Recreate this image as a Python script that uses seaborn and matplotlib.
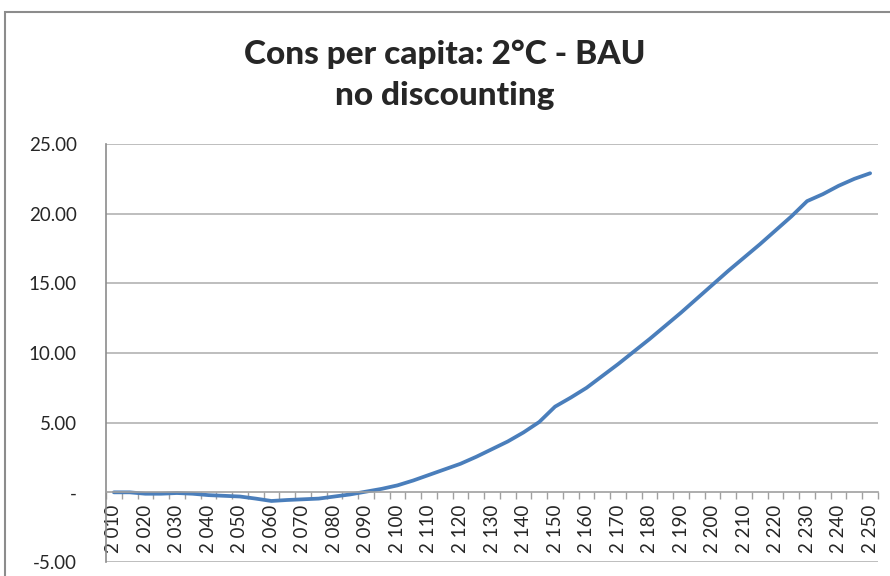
import matplotlib
matplotlib.use('Agg')
import matplotlib.pyplot as plt
from matplotlib.patches import Rectangle
import seaborn as sns
import numpy as np
import pandas as pd

# category years, every 5 years
years = list(range(2010, 2251, 5))
cons_diff = [0.0, 0.0, -0.1, -0.1, -0.05, -0.1, -0.2, -0.25, -0.3, -0.45,
             -0.62, -0.55, -0.5, -0.45, -0.3, -0.15, 0.05, 0.25, 0.5, 0.85,
             1.25, 1.65, 2.05, 2.55, 3.1, 3.65, 4.3, 5.05, 6.15, 6.8,
             7.5, 8.35, 9.2, 10.1, 11.0, 11.95, 12.9, 13.9, 14.9, 15.9,
             16.85, 17.8, 18.8, 19.8, 20.9, 21.4, 22.0, 22.5, 22.9]
y_ticks = [-5, 0, 5, 10, 15, 20, 25]
title = 'Cons per capita: 2°C - BAU\nno discounting'


def year_label(y):
    s = str(y)
    return s[0] + ' ' + s[1:]


def main():
    sns.set_style('white')
    plt.rcParams['font.family'] = ['Lato', 'DejaVu Sans']

    df = pd.DataFrame({'pos': np.arange(len(years)), 'value': cons_diff})

    fig = plt.figure(figsize=(8.9, 5.76), dpi=100)
    ax = fig.add_axes([106/890, 1 - 562/576, (878 - 106)/890, (562 - 144)/576])

    for t in y_ticks:
        if t != 0:
            ax.axhline(t, color='#b3b3b3', lw=1.2, zorder=0)

    sns.lineplot(data=df, x='pos', y='value', ax=ax, color='#4a7ebb', lw=2.7)

    ax.set_xlim(-0.5, len(years) - 0.5)
    ax.set_ylim(-5, 25)
    ax.set_yticks(y_ticks)
    ax.set_yticklabels(['-' if t == 0 else f'{t:.2f}' for t in y_ticks])
    ax.tick_params(axis='y', length=0, pad=21, labelsize=13.5)

    # category labels every 10 years, ticks between categories
    lab_pos = [i for i, y in enumerate(years) if y % 10 == 0]
    ax.set_xticks(lab_pos)
    ax.set_xticks(np.arange(len(years) + 1) - 0.5, minor=True)
    ax.set_xticklabels([year_label(years[i]) for i in lab_pos])
    ax.tick_params(axis='x', which='major', length=0, pad=9,
                   labelrotation=90, labelsize=13.5)
    ax.tick_params(axis='x', which='minor', length=5, color='#a0a0a0',
                   width=1, direction='out', bottom=True)

    ax.spines['bottom'].set_position(('data', 0))
    ax.spines['bottom'].set_color('#a0a0a0')
    ax.spines['bottom'].set_linewidth(1.2)
    ax.spines['left'].set_color('#8c8c8c')
    ax.spines['left'].set_linewidth(1.2)
    ax.spines['top'].set_visible(False)
    ax.spines['right'].set_visible(False)
    ax.set_xlabel('')
    ax.set_ylabel('')

    fig.text(0.5, 1 - 75/576, title, ha='center', va='center',
             fontsize=24, fontweight='black', linespacing=1.5)

    fig.patches.append(Rectangle((5/890, -0.1), 1.2, (576 - 12)/576 + 0.1,
                                 transform=fig.transFigure, fill=False,
                                 edgecolor='#8c8c8c', lw=1.5))

    plt.savefig('out.png', dpi=100)


if __name__ == '__main__':
    main()
